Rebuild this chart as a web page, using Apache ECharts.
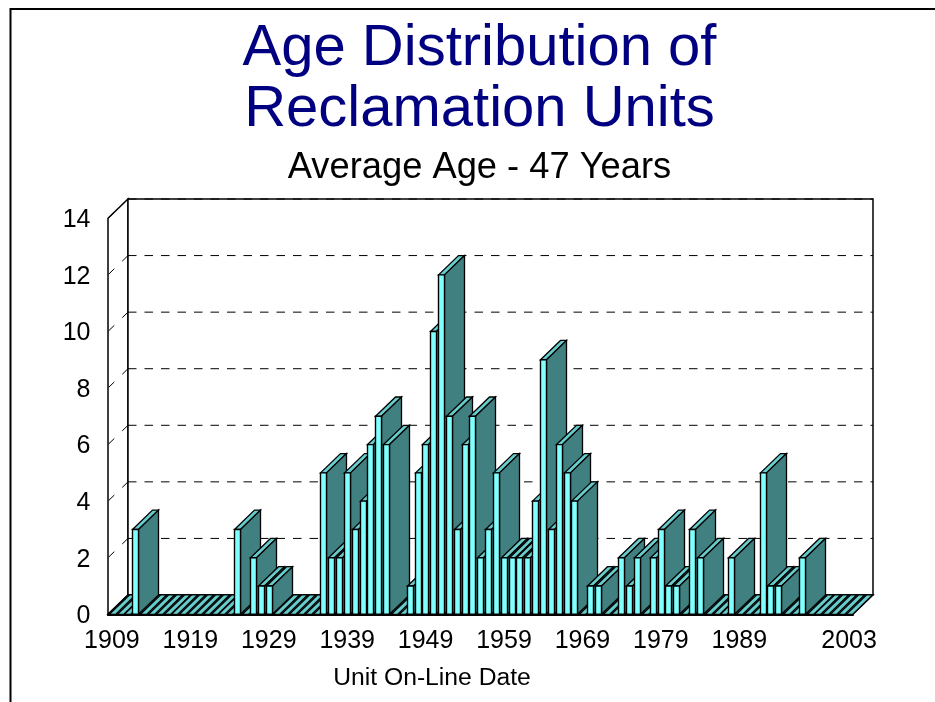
<!DOCTYPE html>
<html>
<head>
<meta charset="utf-8">
<style>html,body{margin:0;padding:0;background:#fff}#c{width:935px;height:702px}</style>
<script src="https://cdn.jsdelivr.net/npm/echarts@6/dist/echarts.min.js"></script>
</head>
<body>
<div id="c"></div>
<script>
var titleLines = ['Age Distribution of', 'Reclamation Units'];
var subtitle = 'Average Age - 47 Years';
var xTitle = 'Unit On-Line Date';
var years = [
  1909,1910,1911,1912,1913,1914,1915,1916,1917,1918,
  1919,1920,1921,1922,1923,1924,1925,1926,1927,1928,
  1929,1930,1931,1932,1933,1934,1935,1936,1937,1938,
  1939,1940,1941,1942,1943,1944,1945,1946,1947,1948,
  1949,1950,1951,1952,1953,1954,1955,1956,1957,1958,
  1959,1960,1961,1962,1963,1964,1965,1966,1967,1968,
  1969,1970,1971,1972,1973,1974,1975,1976,1977,1978,
  1979,1980,1981,1982,1983,1984,1985,1986,1987,1988,
  1989,1990,1991,1992,1993,1994,1995,1996,1997,1998,
  1999,2000,2001,2002,2003
];
var units = [
  0,0,0,3,0,0,0,0,0,0,
  0,0,0,0,0,0,3,0,2,1,
  1,0,0,0,0,0,0,5,2,2,
  5,3,4,6,7,6,0,0,1,5,
  6,10,12,7,3,6,7,2,3,5,
  2,2,2,2,4,9,3,6,5,4,
  0,1,1,0,0,2,1,2,0,2,
  3,1,1,0,3,2,0,0,0,2,
  0,0,0,5,1,1,0,0,2,0,
  0,0,0,0,0
];
var xTickLabels = [1909,1919,1929,1939,1949,1959,1969,1979,1989,2003];
var yTicks = [0,2,4,6,8,10,12,14];

var DEPTH_X = 20, DEPTH_Y = -19.3;
var C_FRONT = '#80ffff', C_SIDE = '#408080', C_TOP = '#66cccc', C_LINE = '#000';
var FONT = '"Liberation Sans", Arial, sans-serif';

function poly(pts, fill, lw) {
  return { type: 'polygon', shape: { points: pts },
    style: { fill: fill, stroke: C_LINE, lineWidth: lw || 1.3, lineJoin: 'miter' } };
}

function renderFloorAndWalls(params, api) {
  var band = api.size([1, 0])[0];
  var l = api.coord([0, 0])[0] - band / 2;
  var r = api.coord([years.length - 1, 0])[0] + band / 2;
  var b = api.coord([0, 0])[1];
  var t = api.coord([0, api.value(1)])[1];
  var dx = DEPTH_X, dy = DEPTH_Y;
  return { type: 'group', children: [
    { type: 'polygon', shape: { points: [[l, t], [l + dx, t + dy], [l + dx, b + dy], [l, b]] },
      style: { fill: '#fff', stroke: C_LINE, lineWidth: 1.5 } },
    { type: 'rect', shape: { x: l + dx, y: t + dy, width: r - l, height: b - t },
      style: { fill: '#fff', stroke: C_LINE, lineWidth: 1.5 } },
    { type: 'polygon', shape: { points: [[l, b], [l + dx, b + dy], [r + dx, b + dy], [r, b]] },
      style: { fill: '#1a3a3a', stroke: C_LINE, lineWidth: 1.4 } }
  ] };
}

function renderGrid(params, api) {
  var band = api.size([1, 0])[0];
  var p = api.coord([0, api.value(1)]);
  var l = p[0] - band / 2;
  var r = api.coord([years.length - 1, 0])[0] + band / 2;
  var y = p[1], dx = DEPTH_X, dy = DEPTH_Y;
  var dash = { stroke: '#000', lineWidth: 1, lineDash: [8.5, 8] };
  return { type: 'group', children: [
    { type: 'line', shape: { x1: l + dx, y1: y + dy, x2: r + dx, y2: y + dy }, style: dash },
    { type: 'line', shape: { x1: l + dx, y1: y + dy, x2: l, y2: y }, style: { stroke: '#000', lineWidth: 1, lineDash: [8, 11] } }
  ] };
}

function renderBar(params, api) {
  var v = api.value(1);
  var c = api.coord([api.value(0), v]);
  var y0 = api.coord([api.value(0), 0])[1];
  var x1 = Math.round(c[0] - 3.25) + 0.5, x2 = x1 + 6, y1 = c[1];
  var dx = DEPTH_X, dy = DEPTH_Y;
  var kids = [];
  kids.push(poly([[x1, y1], [x1 + dx, y1 + dy], [x2 + dx, y1 + dy], [x2, y1]], C_TOP, v > 0 ? 1.3 : 1.1));
  if (v > 0) {
    kids.push(poly([[x2, y1], [x2 + dx, y1 + dy], [x2 + dx, y0 + dy], [x2, y0]], C_SIDE));
    kids.push({ type: 'rect', shape: { x: x1, y: y1, width: x2 - x1, height: y0 - y1 },
      style: { fill: C_FRONT, stroke: C_LINE, lineWidth: 1.4 } });
  }
  return { type: 'group', children: kids };
}

var chart = echarts.init(document.getElementById('c'), null, { renderer: 'canvas' });
chart.setOption({
  animation: false,
  backgroundColor: '#fff',
  title: [
    { text: titleLines.join('\n'), left: 479.5, top: 18, padding: 0, textAlign: 'center',
      textStyle: { color: '#000080', fontFamily: FONT, fontSize: 58, fontWeight: 'normal', lineHeight: 61 } },
    { text: subtitle, left: 479.5, top: 150, padding: 0, textAlign: 'center',
      textStyle: { color: '#000', fontFamily: FONT, fontSize: 36.3, fontWeight: 'normal' } },
    { text: xTitle, left: 432, top: 666, padding: 0, textAlign: 'center',
      textStyle: { color: '#000', fontFamily: FONT, fontSize: 24.7, fontWeight: 'normal' } }
  ],
  grid: { left: 108, right: 82, top: 218.3, bottom: 87.7, containLabel: false },
  xAxis: {
    type: 'category', data: years, boundaryGap: true, z: 20,
    axisLine: { show: true, onZero: false, lineStyle: { color: '#000', width: 2 } },
    axisTick: { show: false },
    splitLine: { show: false },
    axisLabel: {
      color: '#000', fontFamily: FONT, fontSize: 25, margin: 14, hideOverlap: false,
      interval: function (i, val) { return xTickLabels.indexOf(+val) >= 0; }
    }
  },
  yAxis: {
    type: 'value', min: 0, max: 14, interval: 2,
    axisLine: { show: false }, axisTick: { show: false }, splitLine: { show: false },
    axisLabel: { color: '#000', fontFamily: FONT, fontSize: 25, margin: 17.5, verticalAlign: 'top', lineHeight: 4 }
  },
  graphic: [{
    type: 'polyline', silent: true,
    shape: { points: [[10.5, 702], [10.5, 9], [935, 9]] },
    style: { fill: 'none', stroke: '#000', lineWidth: 2 }
  }],
  series: [
    { type: 'custom', name: 'walls', silent: true, z: 1, clip: false,
      renderItem: renderFloorAndWalls, encode: { x: 0, y: 1 }, data: [[0, 14]] },
    { type: 'custom', name: 'grid', silent: true, z: 2, clip: false,
      renderItem: renderGrid, encode: { x: 0, y: 1 },
      data: yTicks.filter(function (t) { return t > 0; }).map(function (t) { return [0, t]; }) },
    { type: 'custom', name: 'Units', silent: true, z: 3, clip: false,
      renderItem: renderBar, encode: { x: 0, y: 1 },
      data: units.map(function (v, i) { return [i, v]; }) }
  ]
});
</script>
</body>
</html>
